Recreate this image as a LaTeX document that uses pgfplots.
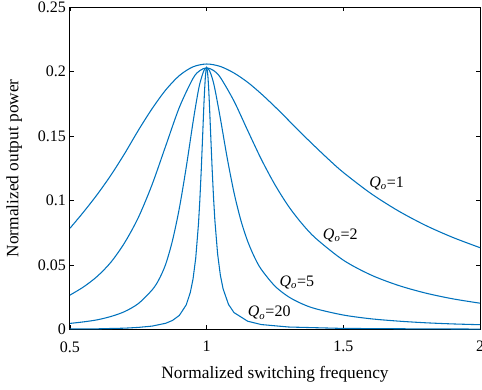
\documentclass[border=0pt]{standalone}
\usepackage{fontspec}
\setmainfont{Liberation Serif}
\usepackage{pgfplots}
\pgfplotsset{compat=1.18}
\definecolor{mblue}{RGB}{0,114,189}
\newcommand{\fs}{\fontsize{12}{14}\selectfont}
\newcommand{\fl}{\fontsize{13}{15}\selectfont}
\newcommand{\Qo}{{\itshape Q}\textsubscript{\itshape o}}
\begin{document}
\begin{tikzpicture}
\begin{axis}[
  scale only axis,
  width=307.5pt, height=241.5pt,
  xmin=0.5, xmax=2, ymin=0, ymax=0.25,
  xtick={0.5,1,1.5,2}, ytick={0,0.05,0.1,0.15,0.2,0.25},
  xticklabels={0.5,1,1.5,2},
  yticklabels={0,0.05,0.1,0.15,0.2,0.25},
  tick align=inside, major tick length=3pt,
  tick style={black, line width=0.6pt},
  axis line style={black, line width=0.75pt},
  tick label style={font=\fs},
  x tick label style={yshift=-5.5pt},
  y tick label style={xshift=0.5pt},
  every axis y label/.style={at={(axis description cs:-0.136,0.5)}, rotate=90, anchor=center, font=\fl},
  every axis x label/.style={at={(axis description cs:0.5,-0.139)}, anchor=center, font=\fl},
  xlabel={Normalized switching frequency},
  ylabel={Normalized output power},
  clip=true,
]
\addplot[mblue, line width=0.8pt, smooth] coordinates {
(0.5,0.0785)(0.55,0.0912)(0.6,0.1048)(0.65,0.1198)(0.7,0.1365)(0.75,0.1545)(0.8,0.1712)(0.85,0.1858)(0.9,0.1970)(0.95,0.2038)(1.0,0.2060)(1.05,0.2041)(1.1,0.1990)(1.15,0.1918)(1.2,0.1828)(1.25,0.1728)(1.3,0.1622)(1.35,0.1515)(1.4,0.1412)(1.45,0.1312)(1.5,0.1218)(1.6,0.1056)(1.7,0.0921)(1.8,0.0808)(1.9,0.0714)(2.0,0.0634)
};
\addplot[mblue, line width=0.8pt, smooth] coordinates {
(0.5,0.0266)(0.55,0.0330)(0.6,0.0412)(0.65,0.0522)(0.7,0.0673)(0.75,0.0868)(0.8,0.1122)(0.85,0.1423)(0.9,0.1723)(0.95,0.1948)(0.975,0.2009)(1.0,0.2030)(1.025,0.2010)(1.05,0.1956)(1.1,0.1772)(1.15,0.1544)(1.2,0.1320)(1.25,0.1122)(1.3,0.0954)(1.35,0.0817)(1.4,0.0705)(1.5,0.0537)(1.6,0.0423)(1.7,0.0342)(1.8,0.0282)(1.9,0.0237)(2.0,0.0203)
};
\addplot[mblue, line width=0.8pt, smooth] coordinates {
(0.5,0.0046)(0.55,0.0058)(0.6,0.0074)(0.65,0.0100)(0.7,0.0138)(0.75,0.0200)(0.8,0.0305)(0.825,0.0385)(0.85,0.0505)(0.875,0.0690)(0.9,0.0940)(0.925,0.1255)(0.95,0.1607)(0.965,0.1800)(0.975,0.1908)(0.99,0.2010)(1.0,0.2030)(1.01,0.2010)(1.02,0.1953)(1.03,0.1867)(1.05,0.1639)(1.075,0.1332)(1.1,0.1062)(1.125,0.0847)(1.15,0.0684)(1.175,0.0560)(1.2,0.0465)(1.25,0.0335)(1.3,0.0252)(1.35,0.0197)(1.4,0.0159)(1.5,0.0111)(1.6,0.0082)(1.7,0.0064)(1.8,0.0051)(1.9,0.0042)(2.0,0.0036)
};
\addplot[mblue, line width=0.8pt] coordinates {
(0.5,0.0003)(0.6,0.0004)(0.7,0.0009)(0.75,0.0015)(0.8,0.0025)(0.85,0.0047)(0.875,0.0069)(0.9,0.0108)(0.925,0.0189)(0.94,0.0285)(0.95,0.0389)(0.96,0.0553)(0.97,0.0817)(0.975,0.1002)(0.98,0.1228)(0.985,0.1487)(0.99,0.1752)(0.9925,0.1861)(0.995,0.1952)(0.9975,0.2010)(1.0,0.2030)(1.0025,0.2010)(1.005,0.1952)(1.0075,0.1864)(1.01,0.1752)(1.015,0.1498)(1.02,0.1247)(1.025,0.1028)(1.03,0.0847)(1.04,0.0586)(1.05,0.0422)(1.06,0.0315)(1.08,0.0193)(1.1,0.0130)(1.15,0.0063)(1.2,0.0037)(1.3,0.0018)(1.5,0.0007)(1.75,0.0004)(2.0,0.0002)
};
\node[anchor=west, font=\fs, inner sep=0pt] at (axis cs:1.594,0.1136) {\Qo=1};
\node[anchor=west, font=\fs, inner sep=0pt] at (axis cs:1.4246,0.0732) {\Qo=2};
\node[anchor=west, font=\fs, inner sep=0pt] at (axis cs:1.266,0.0367) {\Qo=5};
\node[anchor=west, font=\fs, inner sep=0pt] at (axis cs:1.150,0.0127) {\Qo=20};
\end{axis}
\pgfresetboundingbox
\path ([shift={(-52.5pt,-44.8pt)}]current axis.south west) rectangle ([shift={(1.5pt,5.5pt)}]current axis.north east);
\end{tikzpicture}
\end{document}
